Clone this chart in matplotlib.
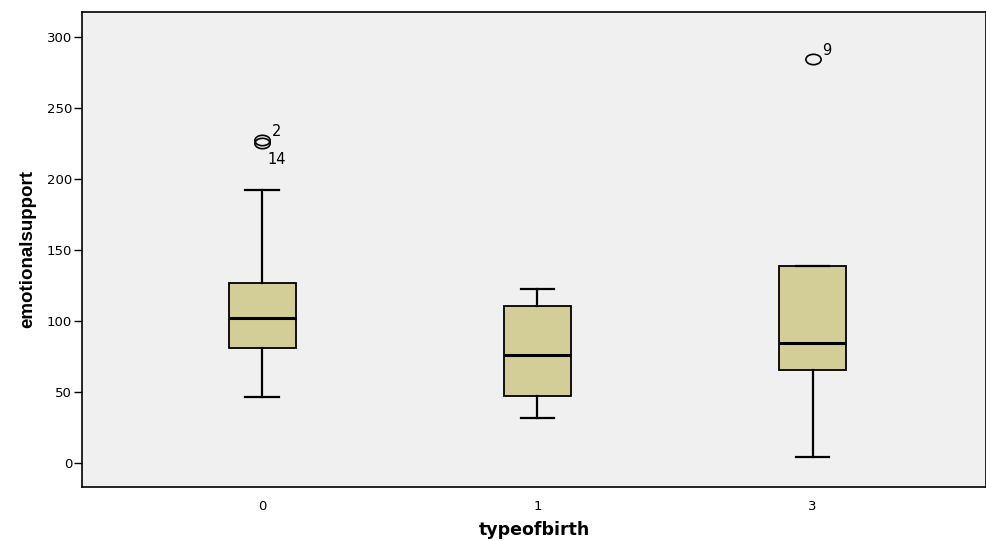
import matplotlib
matplotlib.use("Agg")
import matplotlib.pyplot as plt
from matplotlib.path import Path

plt.rcParams['font.family'] = ['DejaVu Sans']

# box statistics
groups = ["0", "1", "3"]
whislo = [46.5, 31.5, 4.2]
q1 = [81, 47, 65.5]
med = [102, 76, 84.5]
q3 = [126.8, 110.6, 138.7]
whishi = [192.3, 122.5, 138.7]
outliers = [[227.5, 225.3], [], [284.5]]
outlier_ids = [["2", "14"], [], ["9"]]

stats = []
for i, g in enumerate(groups):
    stats.append(dict(label=g, whislo=whislo[i], q1=q1[i], med=med[i],
                      q3=q3[i], whishi=whishi[i], fliers=[]))

fig = plt.figure(figsize=(9.87, 5.41), dpi=100)
ax = fig.add_axes([0.0831, 0.0998, 0.9159, 0.8782])
ax.set_facecolor('#f0f0f0')

pos = list(range(len(groups)))
ax.bxp(stats, positions=pos, widths=0.245, patch_artist=True,
       boxprops=dict(facecolor='#d3ce97', edgecolor='black', linewidth=1.3),
       medianprops=dict(color='black', linewidth=2.2),
       whiskerprops=dict(color='black', linewidth=1.6),
       capprops=dict(color='black', linewidth=1.6),
       capwidths=0.122, showfliers=False)

# flattened circle marker like SPSS outliers
circ = Path.unit_circle()
ellipse = Path(circ.vertices * [1.0, 0.68], circ.codes)

for i, vals in enumerate(outliers):
    for j, v in enumerate(vals):
        ax.plot(pos[i], v, marker=ellipse, markersize=11, markerfacecolor='none',
                markeredgecolor='black', markeredgewidth=1.2, linestyle='none',
                zorder=4)
        if j == 0:
            ax.annotate(outlier_ids[i][j], (pos[i], v), xytext=(7, 3),
                        textcoords='offset points', fontsize=10.5)
        else:
            ax.annotate(outlier_ids[i][j], (pos[i], v), xytext=(4, -15),
                        textcoords='offset points', fontsize=10.5)

ax.set_xlim(-0.655, 2.63)
ax.set_ylim(-16.9, 317.6)
ax.set_yticks([0, 50, 100, 150, 200, 250, 300])
ax.set_xticks(pos)
ax.set_xticklabels(groups)
ax.tick_params(axis='y', length=6, width=1, labelsize=9.5, pad=1)
ax.tick_params(axis='x', length=0, labelsize=9.5, pad=9)
for s in ax.spines.values():
    s.set_color('black')
    s.set_linewidth(1.2)

ax.set_ylabel('emotionalsupport', fontsize=13.5, fontweight='bold',
              family='Liberation Sans', labelpad=8)
ax.set_xlabel('typeofbirth', fontsize=12.5, fontweight='bold', labelpad=6)

fig.savefig('out.png', dpi=100)
